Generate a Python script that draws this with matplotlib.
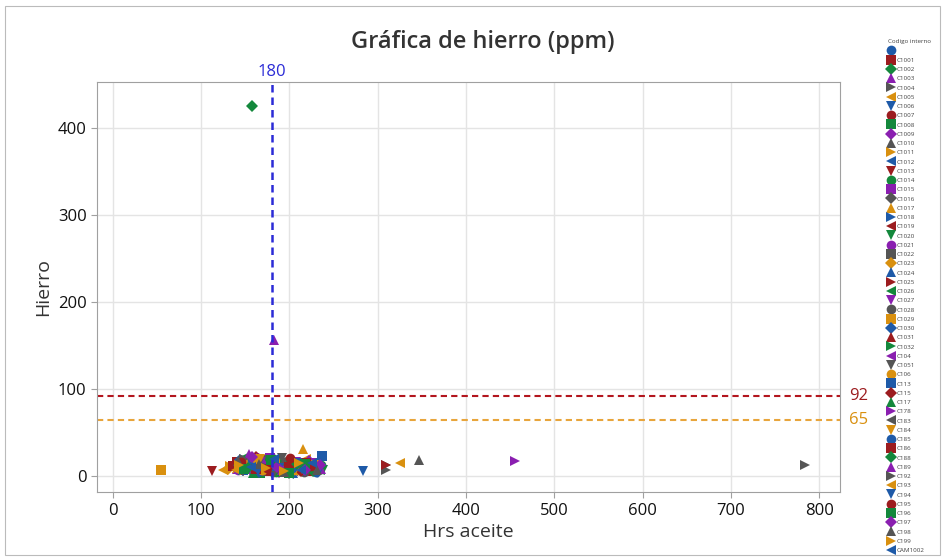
import matplotlib.pyplot as plt
from matplotlib.lines import Line2D
from matplotlib.patches import Rectangle

plt.rcParams['font.family'] = ['Open Sans', 'DejaVu Sans']

# codes shown in legend (first one is the blank group)
codes = [" ", "C1001", "C1002", "C1003", "C1004", "C1005", "C1006", "C1007", "C1008",
         "C1009", "C1010", "C1011", "C1012", "C1013", "C1014", "C1015", "C1016", "C1017",
         "C1018", "C1019", "C1020", "C1021", "C1022", "C1023", "C1024", "C1025", "C1026",
         "C1027", "C1028", "C1029", "C1030", "C1031", "C1032", "C104", "C1051", "C106",
         "C113", "C115", "C117", "C178", "C183", "C184", "C185", "C186", "C188", "C189",
         "C192", "C193", "C194", "C195", "C196", "C197", "C198", "C199", "CAM1002"]

# Hrs aceite per code
hrs = [
    [150, 205, 177, 228], [160, 222, 190, 141], [157, 175, 212], [183, 140, 201, 226],
    [309, 784, 198, 309, 163], [325, 125, 187, 219], [283, 165, 231, 196],
    [170, 214, 148, 191], [200, 232, 167, 183], [148, 188, 222, 205], [347, 178, 158, 215],
    [210, 158, 184, 133], [145, 226, 200, 171], [112, 196, 160, 230],
    [185, 236, 152, 209], [163, 208, 229, 178], [176, 230, 146, 199], [215, 141, 186, 204],
    [152, 220, 193, 169], [168, 201, 138, 224], [225, 180, 156, 238],
    [142, 212, 189, 162], [195, 172, 223, 150], [130, 218, 175, 202], [160, 204, 232, 184],
    [309, 186, 166, 214], [234, 173, 147, 197], [155, 228, 181, 207],
    [182, 146, 216, 170], [54, 207, 188, 159], [193, 166, 235, 144], [178, 221, 155, 199],
    [229, 150, 176, 210], [203, 161, 227, 139], [137, 211, 183, 192],
    [169, 224, 154, 198], [237, 147, 180, 213], [188, 213, 162, 231], [159, 233, 197, 174],
    [455, 197, 168, 221], [216, 174, 143, 190], [144, 206, 229, 167],
    [181, 230, 157, 203], [162, 199, 219, 136], [227, 153, 185, 208], [154, 192, 236, 171],
    [171, 219, 149, 195], [139, 184, 225, 161], [209, 164, 188, 232],
    [175, 224, 145, 201], [149, 200, 217, 179], [217, 186, 158, 234], [166, 231, 194, 142],
    [194, 143, 211, 173], [156, 213, 182, 226],
]

# Hierro (ppm) per code
fe = [
    [11, 9, 15, 6], [14, 6, 10, 17], [426, 12, 7], [157, 9, 16, 11],
    [13, 13, 8, 7, 18], [16, 7, 12, 20], [6, 8, 4, 15],
    [10, 12, 19, 6], [9, 14, 4, 17], [12, 5, 18, 9], [19, 16, 21, 11],
    [8, 13, 17, 12], [15, 7, 3, 19], [6, 10, 20, 14],
    [5, 13, 17, 9], [11, 7, 16, 21], [14, 9, 18, 4], [32, 10, 15, 19],
    [6, 12, 18, 20], [13, 8, 11, 16], [10, 3, 19, 8],
    [8, 11, 15, 22], [16, 6, 13, 18], [9, 14, 7, 11], [12, 4, 17, 20],
    [13, 10, 19, 6], [7, 9, 21, 15], [6, 15, 11, 17],
    [14, 11, 5, 20], [8, 7, 16, 12], [10, 5, 13, 19], [6, 12, 20, 8],
    [11, 8, 17, 14], [15, 9, 6, 13], [12, 10, 4, 21],
    [7, 13, 18, 5], [23, 8, 12, 16], [10, 6, 22, 11], [4, 12, 9, 19],
    [18, 9, 21, 7], [11, 14, 6, 17], [8, 6, 13, 20],
    [13, 5, 19, 10], [9, 11, 15, 12], [6, 10, 18, 14], [26, 7, 9, 16],
    [12, 9, 20, 5], [8, 14, 11, 18], [15, 6, 10, 4],
    [10, 12, 17, 21], [9, 4, 14, 19], [7, 11, 22, 13], [14, 8, 5, 18],
    [6, 13, 16, 10], [11, 7, 20, 15],
]

limit_x = 180
limit_red = 92
limit_orange = 65

colors = ['#1e5aa8', '#9c1c1f', '#14883c', '#8a1fb0', '#555555', '#d9900f']
markers = ['o', 's', 'D', '^', '>', '<', 'v']

fig = plt.figure(figsize=(9.45, 5.58), dpi=100)
fig.patches.append(Rectangle((0.005, 0.005), 0.99, 0.985, transform=fig.transFigure,
                             fill=False, edgecolor='#bbbbbb', linewidth=0.8))
ax = fig.add_axes([0.1026, 0.118, 0.786, 0.735])

handles = []
for i, code in enumerate(codes):
    c = colors[i % 6]
    m = markers[i % 7]
    ms = 6 if m == 'D' else 7
    ax.plot(hrs[i], fe[i], linestyle='none', marker=m, color=c, markersize=ms,
            markeredgewidth=0, zorder=3)
    handles.append(Line2D([], [], linestyle='none', marker=m, color=c, markersize=ms,
                          markeredgewidth=0))

ax.axvline(limit_x, color='#2b2bd6', linestyle=(0, (3, 2)), linewidth=1.8, zorder=4)
ax.axhline(limit_red, color='#b3161e', linestyle=(0, (3, 2)), linewidth=1.5, zorder=2)
ax.axhline(limit_orange, color='#e8a53c', linestyle=(0, (3, 2)), linewidth=1.5, zorder=2)

ax.text(limit_x, 1.004, str(limit_x), transform=ax.get_xaxis_transform(), ha='center',
        va='bottom', color='#2b2bd6', fontsize=12)
ax.text(1.012, limit_red, str(limit_red), transform=ax.get_yaxis_transform(), ha='left',
        va='center', color='#9c1c1f', fontsize=12)
ax.text(1.012, limit_orange, str(limit_orange), transform=ax.get_yaxis_transform(), ha='left',
        va='center', color='#d9900f', fontsize=12)

ax.set_xlim(-18, 823)
ax.set_ylim(-18, 453)
ax.set_xticks(range(0, 801, 100))
ax.set_yticks(range(0, 401, 100))
ax.grid(True, color='#e4e4e4', linewidth=1)
ax.set_axisbelow(True)
for s in ax.spines.values():
    s.set_color('#a0a0a0')
ax.tick_params(colors='#a0a0a0', labelcolor='#111111', labelsize=12, length=4)

ax.set_xlabel('Hrs aceite', fontsize=14, color='#333333', labelpad=3)
ax.set_ylabel('Hierro', fontsize=14, color='#333333')
fig.text(0.511, 0.925, 'Gráfica de hierro (ppm)', ha='center', va='center', fontsize=17,
         color='#333333', fontweight='semibold')

leg = fig.legend(handles, codes, loc='upper left', bbox_to_anchor=(0.936, 0.935),
                 frameon=False, fontsize=4.5, title='Codigo interno', title_fontsize=4.5,
                 handlelength=1.0, handletextpad=0.5, labelspacing=0.62, borderpad=0,
                 alignment='left')
for t in leg.get_texts():
    t.set_color('#444444')
leg.get_title().set_color('#444444')

fig.savefig('out.png', dpi=100)
